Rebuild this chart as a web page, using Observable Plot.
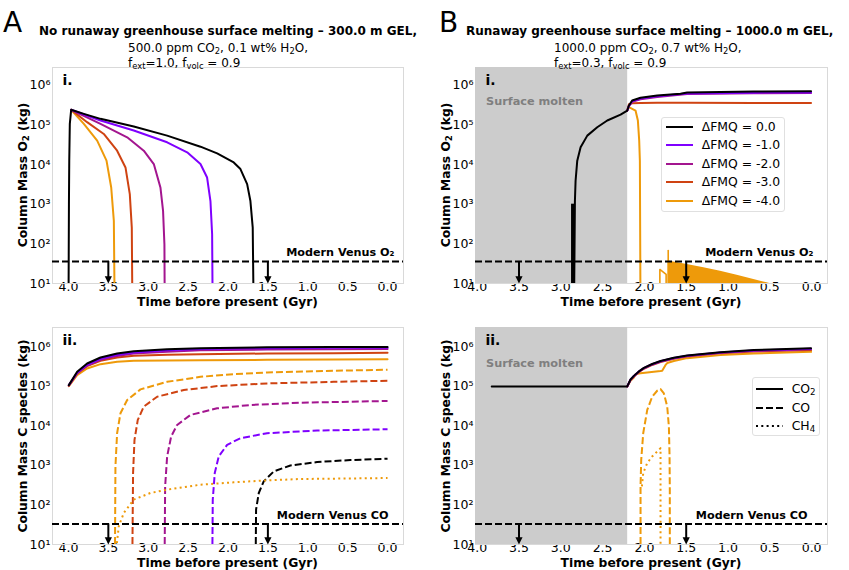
<!DOCTYPE html>
<html><head><meta charset="utf-8">
<script src="https://cdn.jsdelivr.net/npm/d3@7"></script>
<script src="https://cdn.jsdelivr.net/npm/@observablehq/plot@0.6"></script>
<style>
body{margin:0;background:#fff;}
#fig{position:relative;width:849px;height:570px;font-family:"DejaVu Sans",sans-serif;color:#000;overflow:hidden;background:#fff}
.abs{position:absolute;white-space:nowrap;line-height:1}
.big{font-size:28px}
.ttl{font-weight:bold;font-size:12px}
.sub{font-size:12px}
sub{font-size:70%;vertical-align:-0.25em;line-height:0}
.ylab{font-weight:bold;font-size:12.3px;transform:translate(-50%,-50%) rotate(-90deg)}
.xlab{font-weight:bold;font-size:12.3px;transform:translate(-50%,-50%)}
.panel{position:absolute}
.panel svg{overflow:visible}
.legend{position:absolute;background:rgba(255,255,255,0.85);border:1px solid #e0e0e0;border-radius:3px;font-size:12.4px;box-sizing:border-box}
.legend .row{position:absolute;white-space:nowrap;line-height:1}
.legend svg{position:absolute}
</style></head>
<body>
<div id="fig"></div>
<script>
// ---------- shared values ----------
const xTicks = [4.0, 3.5, 3.0, 2.5, 2.0, 1.5, 1.0, 0.5, 0.0];
const yTicks = [1e1, 1e2, 1e3, 1e4, 1e5, 1e6];
const fmqLevels = ["0.0", "-1.0", "-2.0", "-3.0", "-4.0"];
const fmqColors = ["#000000", "#7f00ff", "#a3158f", "#cf4312", "#ee9a0a"];
const speciesNames = ["CO₂", "CO", "CH₄"];
const venusO2 = 36;
const venusCO = 33;
const arrowTimes = [3.5, 1.5];
const arrowTip = 12.3;
const moltenSpan = [{from: 4.5, to: 2.2}];

// ---------- Panel A.i : O2 (no runaway) ----------
const aO2T_0 = [4.0, 3.994, 3.99, 3.983, 3.966, 3.807, 3.598, 3.181, 2.763, 2.345, 2.136, 1.928, 1.844, 1.760, 1.719, 1.690, 1.677];
const aO2V_0 = [1, 1.0e3, 1.25e4, 1.06e5, 2.4e5, 1.9e5, 1.42e5, 9.06e4, 5.36e4, 2.82e4, 1.91e4, 1.13e4, 7.7e3, 3.2e3, 1.2e3, 256, 1];
const aO2T_1 = [3.966, 3.598, 3.181, 2.763, 2.512, 2.345, 2.262, 2.220, 2.199, 2.191];
const aO2V_1 = [2.4e5, 1.29e5, 7.2e4, 3.64e4, 2.03e4, 1.03e4, 4.7e3, 1.2e3, 174, 1];
const aO2T_2 = [3.966, 3.598, 3.264, 3.056, 2.930, 2.847, 2.814, 2.797, 2.792];
const aO2V_2 = [2.4e5, 1.06e5, 4.86e4, 2.23e4, 1.03e4, 2.64e3, 676, 98, 1];
const aO2T_3 = [3.966, 3.766, 3.557, 3.390, 3.285, 3.231, 3.206, 3.197];
const aO2V_3 = [2.4e5, 1.17e5, 5.9e4, 2.23e4, 8.45e3, 1.79e3, 256, 1];
const aO2T_4 = [3.966, 3.807, 3.640, 3.523, 3.464, 3.431, 3.419];
const aO2V_4 = [2.4e5, 1.06e5, 4.0e4, 1.25e4, 2.64e3, 378, 1];

// ---------- Panel A.ii : C species ----------
const aCO2T = [3.995, 3.891, 3.766, 3.598, 3.390, 3.181, 2.763, 2.345, 1.510, 0.675, 0.0];
const aCO2V_0 = [1.08e5, 2.35e5, 3.81e5, 5.4e5, 6.81e5, 7.78e5, 8.75e5, 9.27e5, 9.82e5, 1.0e6, 1.0e6];
const aCO2V_1 = [1.08e5, 2.22e5, 3.52e5, 4.99e5, 6.3e5, 7.21e5, 8.26e5, 8.91e5, 9.27e5, 9.46e5, 9.46e5];
const aCO2V_2 = [1.06e5, 2.17e5, 3.39e5, 4.71e5, 5.93e5, 6.81e5, 7.5e5, 8.26e5, 8.59e5, 8.75e5, 8.91e5];
const aCO2V_3 = [1.04e5, 2.13e5, 3.26e5, 4.45e5, 5.4e5, 5.94e5, 6.3e5, 6.55e5, 6.81e5, 6.93e5, 7.08e5];
const aCO2V_4 = [1.02e5, 1.94e5, 2.85e5, 3.66e5, 4.2e5, 4.45e5, 4.53e5, 4.62e5, 4.71e5, 4.8e5, 4.9e5];
const aCOT_0 = [1.656, 1.648, 1.614, 1.552, 1.426, 1.218, 0.883, 0.466, 0.0];
const aCOV_0 = [1, 77, 201, 396, 708, 1.0e3, 1.22e3, 1.37e3, 1.48e3];
const aCOT_1 = [2.199, 2.191, 2.166, 2.116, 2.011, 1.844, 1.510, 0.883, 0.0];
const aCOV_1 = [1, 137, 643, 1.69e3, 3.33e3, 4.9e3, 6.55e3, 7.64e3, 8.26e3];
const aCOT_2 = [2.797, 2.788, 2.763, 2.713, 2.638, 2.471, 2.136, 1.719, 1.092, 0.0];
const aCOV_2 = [1, 296, 1.69e3, 5.4e3, 1.06e4, 1.9e4, 2.79e4, 3.39e4, 3.88e4, 4.28e4];
const aCOT_3 = [3.202, 3.190, 3.172, 3.131, 3.056, 2.888, 2.554, 2.136, 1.510, 0.675, 0.0];
const aCOV_3 = [1, 643, 4.45e3, 1.42e4, 3.08e4, 5.5e4, 8.09e4, 1.02e5, 1.19e5, 1.31e5, 1.39e5];
const aCOT_4 = [3.419, 3.411, 3.390, 3.348, 3.264, 3.097, 2.763, 2.345, 1.928, 1.510, 0.675, 0.0];
const aCOV_4 = [1, 946, 6.55e3, 2.09e4, 4.53e4, 8.41e4, 1.31e5, 1.75e5, 2.05e5, 2.26e5, 2.49e5, 2.64e5];
const aCH4T_4 = [3.40, 3.369, 3.306, 3.181, 2.972, 2.763, 2.345, 1.928, 1.510, 1.092, 0.0];
const aCH4V_4 = [8, 29, 63, 137, 201, 244, 327, 374, 420, 454, 481];

// ---------- Panel B.i : O2 (runaway) ----------
const bSpikeT = [2.857];
const bSpikeV = [1.0e3];
const bO2T_0 = [2.843, 2.831, 2.823, 2.803, 2.763, 2.683, 2.564, 2.444, 2.285, 2.205, 2.185, 2.146, 2.046, 1.847, 1.568, 1.489, 0.692, 0.007];
const bO2V_0 = [1, 1.21e3, 3.9e3, 1.25e4, 2.72e4, 5.36e4, 8.7e4, 1.29e5, 1.82e5, 2.3e5, 3.08e5, 4.12e5, 4.82e5, 5.52e5, 6.08e5, 6.58e5, 6.97e5, 7.1e5];
const bO2T_post = [2.205, 2.185, 2.146, 2.046, 1.847, 1.489, 0.692, 0.007];
const bO2V_1 = [2.3e5, 3.0e5, 3.95e5, 4.6e5, 5.25e5, 6.2e5, 6.5e5, 6.6e5];
const bO2V_2 = [2.3e5, 2.95e5, 3.85e5, 4.45e5, 5.05e5, 6.0e5, 6.25e5, 6.35e5];
const bO2V_3 = [2.3e5, 3.3e5, 3.5e5, 3.58e5, 3.6e5, 3.6e5, 3.58e5, 3.55e5];
const bO2T_4 = [2.205, 2.185, 2.106, 2.078, 2.062, 2.054, 2.046];
const bO2V_4 = [2.3e5, 2.8e5, 2.3e5, 1.29e5, 4.0e4, 1.25e4, 1];
const bO2T_4step = [1.815, 1.815, 1.740, 1.740];
const bO2V_4step = [1, 22.6, 16.9, 1];
const bO2T_4spike = [1.715, 1.715];
const bO2V_4spike = [1, 68];
const bO2T_4band = [1.715, 1.489, 1.289, 1.09, 0.891, 0.692, 0.533, 0.453];
const bO2V_4band = [37, 30.2, 24.9, 20.5, 16.2, 12.6, 10.4, 9.4];

// ---------- Panel B.ii : C species ----------
const bCO2T_0 = [3.826, 2.205, 2.166, 2.126, 2.066, 2.006, 1.907, 1.807, 1.648, 1.489, 1.09, 0.692, 0.007];
const bCO2V_0 = [1e5, 1e5, 1.5e5, 1.85e5, 2.4e5, 2.95e5, 3.7e5, 4.4e5, 5.3e5, 6.1e5, 7.35e5, 8.3e5, 9.3e5];
const bCO2T_post = [2.205, 2.166, 2.126, 2.066, 2.006, 1.907, 1.807, 1.648, 1.489, 1.09, 0.692, 0.007];
const bCO2V_1 = [1e5, 1.49e5, 1.83e5, 2.38e5, 2.92e5, 3.65e5, 4.35e5, 5.23e5, 6.0e5, 7.2e5, 8.1e5, 9.0e5];
const bCO2V_2 = [1e5, 1.47e5, 1.81e5, 2.35e5, 2.88e5, 3.6e5, 4.28e5, 5.15e5, 5.85e5, 7.1e5, 7.95e5, 8.7e5];
const bCO2V_3 = [1e5, 1.45e5, 1.78e5, 2.3e5, 2.8e5, 3.5e5, 4.15e5, 5.0e5, 5.7e5, 6.9e5, 7.7e5, 8.3e5];
const bCO2T_4 = [2.205, 2.166, 2.126, 2.106, 2.046, 1.966, 1.887, 1.807, 1.787, 1.747, 1.727, 1.648, 1.489, 1.09, 0.692, 0.007];
const bCO2V_4 = [1e5, 1.39e5, 1.69e5, 2.05e5, 2.15e5, 2.25e5, 2.35e5, 2.45e5, 2.49e5, 3.5e5, 3.9e5, 4.4e5, 5.2e5, 6.2e5, 6.8e5, 7.5e5];
const bCOT_4 = [2.046, 2.046, 2.038, 2.014, 1.966, 1.907, 1.847, 1.807, 1.767, 1.727, 1.707, 1.699, 1.696, 1.696];
const bCOV_4 = [1, 297, 1.39e3, 6.55e3, 2.54e4, 5.5e4, 7.78e4, 8.6e4, 6.67e4, 3.08e4, 9.6e3, 1.69e3, 244, 1];
const bCH4T_4 = [2.030, 2.014, 1.966, 1.907, 1.847, 1.807, 1.807];
const bCH4V_4 = [297, 643, 1.15e3, 1.69e3, 2.26e3, 2.74e3, 1];

// ---------- helpers ----------
const pts = (t, v) => t.map((x, i) => ({t: x, v: v[i]}));
const sup = {1: "¹", 2: "²", 3: "³", 4: "⁴", 5: "⁵", 6: "⁶"};
const supFormat = d => "10" + sup[Math.round(Math.log10(d))];
const downTri = {draw(ctx, size) { const r = Math.sqrt(size / Math.PI); ctx.moveTo(-r, -r); ctx.lineTo(r, -r); ctx.lineTo(0, r); ctx.closePath(); }};
const DASH = "7,3", DOT = "2,3.3";

function line(t, v, color, dash, w = 2) {
  return Plot.line(pts(t, v), {x: "t", y: "v", stroke: color, strokeWidth: w,
    strokeDasharray: dash, strokeLinecap: dash ? "butt" : "round", strokeLinejoin: "round", clip: true});
}
function venusMarks(level, label, dx) {
  return [
    Plot.ruleY([level], {y: d => d, stroke: "#000", strokeWidth: 2, strokeDasharray: DASH, strokeLinecap: "butt", clip: true}),
    Plot.ruleX(arrowTimes, {x: d => d, y1: level, y2: arrowTip, stroke: "#000", strokeWidth: 2}),
    Plot.dot(arrowTimes, {x: d => d, y: arrowTip, symbol: downTri, r: 3.6, fill: "#000", stroke: "none"}),
    Plot.text([label], {text: d => d, y: level, frameAnchor: "right", textAnchor: "end", dx, dy: -9,
      fontWeight: "bold", fontSize: 11.2, fill: "#000"})
  ];
}
function cornerLabel(s) {
  return Plot.text([s], {text: d => d, frameAnchor: "top-left", textAnchor: "start", lineAnchor: "top",
    dx: 10, dy: 8, fontWeight: "bold", fontSize: 14, fill: "#000"});
}
function moltenMarks(dy) {
  return [
    Plot.rect(moltenSpan, {x1: "from", x2: "to", y1: 1, y2: 1e8, fill: "#cccccc", clip: true}),
    Plot.text(["Surface molten"], {text: d => d, frameAnchor: "top-left", textAnchor: "start", lineAnchor: "top",
      dx: 10.5, dy, fontWeight: "bold", fontSize: 11.3, fill: "#7f7f7f"})
  ];
}
function makePlot({left, xDomain, yDomain, top, marks}) {
  const w = left ? 420 : 429;
  return Plot.plot({
    width: w, height: 240,
    marginLeft: left ? 52 : 55, marginRight: left ? 17 : 22,
    marginTop: 7, marginBottom: top ? 17 : 16,
    x: {domain: xDomain, ticks: xTicks, tickFormat: d3.format(".1f"), tickSize: 0, tickPadding: -1.5, label: null},
    y: {type: "log", domain: yDomain, ticks: yTicks, tickFormat: supFormat, tickSize: 0, tickPadding: 2, label: null},
    style: {fontFamily: "DejaVu Sans", fontSize: "12.5px", background: "transparent", overflow: "visible", color: "#000"},
    marks: [Plot.frame({stroke: "#d9d9d9"}), ...marks]
  });
}

const xA = [4.2, -0.2], xB = [4.02, -0.19];
const yTop = [10, 2.8e6], yBot = [10, 3.1e6];
const C = fmqColors;

const pAi = makePlot({left: true, top: true, xDomain: xA, yDomain: yTop, marks: [
  cornerLabel("i."),
  line(aO2T_4, aO2V_4, C[4]), line(aO2T_3, aO2V_3, C[3]), line(aO2T_2, aO2V_2, C[2]),
  line(aO2T_1, aO2V_1, C[1]), line(aO2T_0, aO2V_0, C[0]),
  ...venusMarks(venusO2, "Modern Venus O₂", -9)
]});
const pAii = makePlot({left: true, top: false, xDomain: xA, yDomain: yBot, marks: [
  cornerLabel("ii."),
  line(aCO2T, aCO2V_4, C[4]), line(aCO2T, aCO2V_3, C[3]), line(aCO2T, aCO2V_2, C[2]),
  line(aCO2T, aCO2V_1, C[1]), line(aCO2T, aCO2V_0, C[0]),
  line(aCOT_4, aCOV_4, C[4], DASH), line(aCOT_3, aCOV_3, C[3], DASH), line(aCOT_2, aCOV_2, C[2], DASH),
  line(aCOT_1, aCOV_1, C[1], DASH), line(aCOT_0, aCOV_0, C[0], DASH),
  line(aCH4T_4, aCH4V_4, C[4], DOT),
  ...venusMarks(venusCO, "Modern Venus CO", -15)
]});
const pBi = makePlot({left: false, top: true, xDomain: xB, yDomain: yTop, marks: [
  ...moltenMarks(29.5),
  cornerLabel("i."),
  Plot.areaY(pts(bO2T_4band, bO2V_4band), {x: "t", y1: 1, y2: "v", fill: C[4], clip: true}),
  line(bO2T_4step, bO2V_4step, C[4], null, 1.6), line(bO2T_4spike, bO2V_4spike, C[4], null, 1.6),
  line(bO2T_4, bO2V_4, C[4]), line(bO2T_post, bO2V_3, C[3]), line(bO2T_post, bO2V_2, C[2]),
  line(bO2T_post, bO2V_1, C[1]),
  Plot.ruleX(pts(bSpikeT, bSpikeV), {x: "t", y1: 1, y2: "v", stroke: "#000", strokeWidth: 3.4, clip: true}),
  line(bO2T_0, bO2V_0, C[0]),
  ...venusMarks(venusO2, "Modern Venus O₂", -14)
]});
const pBii = makePlot({left: false, top: false, xDomain: xB, yDomain: yBot, marks: [
  ...moltenMarks(31),
  cornerLabel("ii."),
  line(bCO2T_4, bCO2V_4, C[4]), line(bCO2T_post, bCO2V_3, C[3]), line(bCO2T_post, bCO2V_2, C[2]),
  line(bCO2T_post, bCO2V_1, C[1]), line(bCO2T_0, bCO2V_0, C[0]),
  line(bCOT_4, bCOV_4, C[4], DASH), line(bCH4T_4, bCH4V_4, C[4], DOT),
  ...venusMarks(venusCO, "Modern Venus CO", -20)
]});

// ---------- assemble ----------
const fig = document.getElementById("fig");
function place(node, left, top) {
  const d = document.createElement("div");
  d.className = "panel"; d.style.left = left + "px"; d.style.top = top + "px";
  d.appendChild(node); fig.appendChild(d);
}
place(pAi, 0, 60); place(pBi, 420, 60); place(pAii, 0, 320); place(pBii, 420, 320);

function html(cls, left, top, inner) {
  const d = document.createElement("div");
  d.className = "abs " + cls; d.style.left = left + "px"; d.style.top = top + "px";
  d.innerHTML = inner; fig.appendChild(d); return d;
}
// titles
html("big", 3, 8.7, "A");
html("ttl", 39, 24.9, "No runaway greenhouse surface melting – 300.0 m GEL,");
html("sub", 128, 42.2, "500.0 ppm CO<sub>2</sub>, 0.1 wt% H<sub>2</sub>O,");
html("sub", 128, 56.6, "f<sub>ext</sub>=1.0, f<sub>volc</sub> = 0.9");
html("big", 439, 8.7, "B");
html("ttl", 466, 24.9, "Runaway greenhouse surface melting – 1000.0 m GEL,");
html("sub", 554, 42.2, "1000.0 ppm CO<sub>2</sub>, 0.7 wt% H<sub>2</sub>O,");
html("sub", 554, 56.6, "f<sub>ext</sub>=0.3, f<sub>volc</sub> = 0.9");
// axis labels
html("xlab", 227.5, 301.7, "Time before present (Gyr)");
html("xlab", 651, 301.7, "Time before present (Gyr)");
html("xlab", 227.5, 563.3, "Time before present (Gyr)");
html("xlab", 651, 563.3, "Time before present (Gyr)");
html("ylab", 23, 175, "Column Mass O<sub>2</sub> (kg)");
html("ylab", 445.5, 175, "Column Mass O<sub>2</sub> (kg)");
html("ylab", 23, 436, "Column Mass C species (kg)");
html("ylab", 445.5, 436, "Column Mass C species (kg)");

// legends
function legend(left, top, w, h, rows) {
  const box = document.createElement("div");
  box.className = "legend";
  Object.assign(box.style, {left: left + "px", top: top + "px", width: w + "px", height: h + "px"});
  rows.forEach(r => {
    const s = document.createElementNS("http://www.w3.org/2000/svg", "svg");
    s.setAttribute("width", 28); s.setAttribute("height", 6);
    s.style.left = r.sx + "px"; s.style.top = (r.cy - 3) + "px";
    const l = document.createElementNS("http://www.w3.org/2000/svg", "line");
    l.setAttribute("x1", 0); l.setAttribute("x2", 27); l.setAttribute("y1", 3); l.setAttribute("y2", 3);
    l.setAttribute("stroke", r.color); l.setAttribute("stroke-width", 2);
    if (r.dash) l.setAttribute("stroke-dasharray", r.dash);
    s.appendChild(l); box.appendChild(s);
    const t = document.createElement("div");
    t.className = "row"; t.style.left = r.tx + "px"; t.style.top = (r.cy - 6.2) + "px";
    t.innerHTML = r.label; box.appendChild(t);
  });
  fig.appendChild(box);
}
legend(660.7, 116.7, 124.3, 95, fmqLevels.map((lv, i) => ({
  label: "ΔFMQ = " + lv, color: fmqColors[i], sx: 4, tx: 40, cy: 9.3 + i * 18.5
})));
const speciesDash = [null, "7,3", "2,3.3"];
const speciesHtml = ["CO<sub>2</sub>", "CO", "CH<sub>4</sub>"];
legend(751.7, 377, 68.3, 59, speciesNames.map((n, i) => ({
  label: speciesHtml[i], color: "#000", dash: speciesDash[i], sx: 3, tx: 39, cy: 11.3 + i * 18.4
})));
</script>
</body></html>
